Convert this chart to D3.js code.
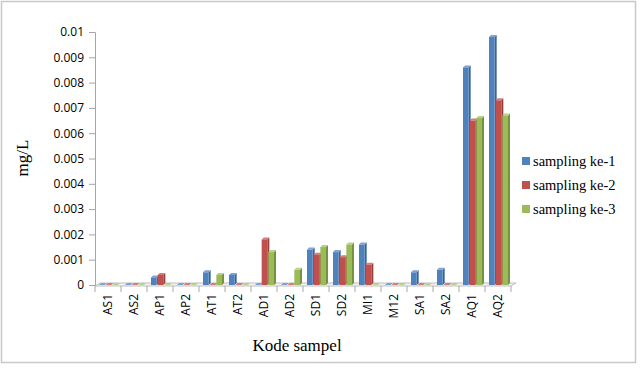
<!DOCTYPE html>
<html>
<head>
<meta charset="utf-8">
<script src="https://cdn.jsdelivr.net/npm/d3@7"></script>
<style>
body { margin: 0; background: #fff; }
</style>
</head>
<body>
<div id="view"></div>
<script>
var width = 642, height = 369;

// data
var categories = ["AS1","AS2","AP1","AP2","AT1","AT2","AD1","AD2","SD1","SD2","MI1","M12","SA1","SA2","AQ1","AQ2"];
var seriesNames = ["sampling ke-1","sampling ke-2","sampling ke-3"];
var sampling1 = [0,0,0.0003,0,0.0005,0.0004,0,0,0.0014,0.0013,0.0016,0,0.0005,0.0006,0.0086,0.0098];
var sampling2 = [0,0,0.0004,0,0,0,0.0018,0,0.0012,0.0011,0.0008,0,0,0,0.0065,0.0073];
var sampling3 = [0,0,0,0,0.0004,0,0.0013,0.0006,0.0015,0.0016,0,0,0,0,0.0066,0.0067];
var yTicks = [0,0.001,0.002,0.003,0.004,0.005,0.006,0.007,0.008,0.009,0.01];

var colors = ["#4F81BD","#C0504D","#9BBB59"];
var sideColors = ["#3A6497","#963C3A","#76923F"];
var topColors = ["#7FA3D2","#D67C7A","#B8D284"];

var svg = d3.select("#view").append("svg")
	.attr("width", width)
	.attr("height", height);

// outer frame
svg.append("rect")
	.attr("x", 1.5).attr("y", 1.5)
	.attr("width", 634).attr("height", 361)
	.style("fill", "#fff")
	.style("stroke", "#c8c8c8")
	.style("stroke-width", 1.5);

var x0 = 95, x1 = 511, yBase = 285, yTop = 32;
var dx = 3, dy = 3; // depth of the 3D look

var x = d3.scaleBand().domain(categories).range([x0, x1]);
var xs = d3.scaleBand().domain([0,1,2]).range([0, x.bandwidth() - 6]).paddingInner(0);
var y = d3.scaleLinear().domain([0, 0.01]).range([yBase, yTop]);

// floor
svg.append("polygon")
	.attr("points", [[x0, yBase + 1], [x1, yBase + 1], [x1 + dx + 2, yBase - dy + 1], [x0 + dx + 2, yBase - dy + 1]].join(" "))
	.style("fill", "#f2f2f2")
	.style("stroke", "#bfbfbf")
	.style("stroke-width", 1);

// y axis
var yAxis = svg.append("g")
	.attr("transform", "translate(" + x0 + ",0)")
	.call(d3.axisLeft(y).tickValues(yTicks).tickSize(6).tickPadding(5)
		.tickFormat(function(d) { return d === 0 ? "0" : String(+d.toFixed(3)); }));
yAxis.select(".domain").style("stroke", "#a6a6a6");
yAxis.selectAll(".tick line").style("stroke", "#a6a6a6");
yAxis.selectAll("text")
	.style("font-family", "'Open Sans', sans-serif")
	.style("font-size", "12px")
	.style("fill", "#000");

// x axis
var xAxis = svg.append("g")
	.attr("transform", "translate(0," + (yBase + 1) + ")")
	.call(d3.axisBottom(x).tickSize(0).tickPadding(0));
xAxis.select(".domain").remove();
xAxis.selectAll("text")
	.attr("transform", "rotate(-90)")
	.attr("x", -8)
	.attr("y", 0)
	.attr("dy", "0.35em")
	.style("text-anchor", "end")
	.style("font-family", "'Open Sans', sans-serif")
	.style("font-size", "12px")
	.style("fill", "#000");
// tick marks between categories
svg.selectAll(".xtick")
	.data(d3.range(categories.length + 1)).enter()
	.append("line")
	.attr("class", "xtick")
	.attr("x1", function(i) { return x0 + i * x.step(); })
	.attr("x2", function(i) { return x0 + i * x.step(); })
	.attr("y1", yBase + 1)
	.attr("y2", yBase + 7)
	.style("stroke", "#a6a6a6");

var all = [sampling1, sampling2, sampling3];
var rows = [];
categories.forEach(function(c, i) {
	all.forEach(function(s, k) {
		rows.push({ cat: c, k: k, v: s[i] });
	});
});

var bars = svg.selectAll(".bar")
	.data(rows).enter()
	.append("g")
	.attr("class", "bar");

function bx(d) { return x(d.cat) + 4 + xs(d.k); }
var bw = xs.bandwidth() - 1;

// side face
bars.append("polygon")
	.attr("points", function(d) {
		var l = bx(d) + bw, t = y(d.v);
		return [[l, t], [l + 2, t - 2], [l + 2, yBase - 2], [l, yBase]].join(" ");
	})
	.style("fill", function(d) { return sideColors[d.k]; });
// top face
bars.append("polygon")
	.attr("points", function(d) {
		var l = bx(d), t = y(d.v);
		return [[l, t], [l + 2, t - 2], [l + bw + 2, t - 2], [l + bw, t]].join(" ");
	})
	.style("fill", function(d) { return topColors[d.k]; });
// front face
bars.append("rect")
	.attr("x", bx)
	.attr("y", function(d) { return y(d.v); })
	.attr("width", bw)
	.attr("height", function(d) { return yBase - y(d.v); })
	.style("fill", function(d) { return colors[d.k]; });

// axis titles
svg.append("text")
	.attr("transform", "translate(28,158) rotate(-90)")
	.style("text-anchor", "middle")
	.style("font-family", "'Liberation Serif', serif")
	.style("font-size", "17px")
	.text("mg/L");
svg.append("text")
	.attr("x", 297).attr("y", 351)
	.style("text-anchor", "middle")
	.style("font-family", "'Liberation Serif', serif")
	.style("font-size", "17px")
	.text("Kode sampel");

// legend
var legend = svg.selectAll(".legend")
	.data(seriesNames).enter()
	.append("g")
	.attr("class", "legend")
	.attr("transform", function(d, i) { return "translate(522," + (161 + i * 24) + ")"; });
legend.append("rect")
	.attr("x", 0).attr("y", -4)
	.attr("width", 8).attr("height", 8)
	.style("fill", function(d, i) { return colors[i]; });
legend.append("text")
	.attr("x", 11).attr("y", 0)
	.attr("dy", "0.35em")
	.style("font-family", "'Liberation Serif', serif")
	.style("font-size", "14.5px")
	.text(function(d) { return d; });
</script>
</body>
</html>
